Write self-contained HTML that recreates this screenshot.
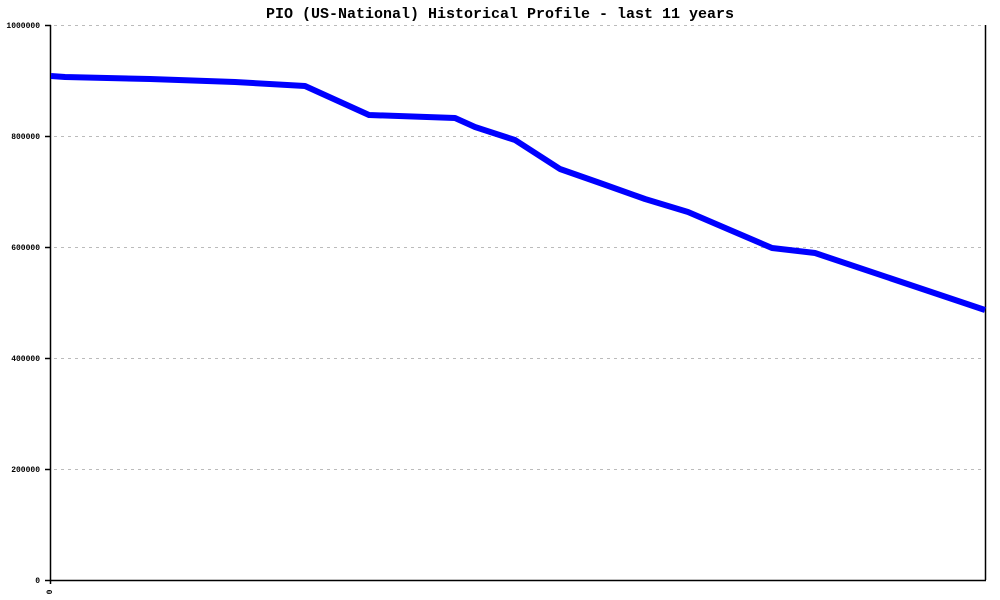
<!DOCTYPE html>
<html><head><meta charset="utf-8"><style>body{margin:0;background:#fff}svg{display:block}</style></head>
<body>
<svg width="1000" height="600" xmlns="http://www.w3.org/2000/svg" font-family="Liberation Mono, monospace">
<text x="500" y="18" text-anchor="middle" font-size="15" font-weight="bold">PIO (US-National) Historical Profile - last 11 years</text>
<g stroke="#bbb" stroke-dasharray="3,4" stroke-width="1">
<line x1="54" y1="25.5" x2="985" y2="25.5"/>
<line x1="54" y1="136.5" x2="985" y2="136.5"/>
<line x1="54" y1="247.5" x2="985" y2="247.5"/>
<line x1="54" y1="358.5" x2="985" y2="358.5"/>
<line x1="54" y1="469.5" x2="985" y2="469.5"/>
</g>
<g stroke="#000" stroke-width="1.5">
<line x1="50.5" y1="25" x2="50.5" y2="584"/>
<line x1="985.5" y1="25" x2="985.5" y2="580"/>
<line x1="50" y1="580.5" x2="986" y2="580.5"/>
<line x1="45" y1="25.5" x2="51" y2="25.5"/>
<line x1="45" y1="136.5" x2="51" y2="136.5"/>
<line x1="45" y1="247.5" x2="51" y2="247.5"/>
<line x1="45" y1="358.5" x2="51" y2="358.5"/>
<line x1="45" y1="469.5" x2="51" y2="469.5"/>
<line x1="45" y1="580.5" x2="51" y2="580.5"/>
</g>
<g font-size="8" font-weight="bold" text-anchor="end">
<text x="40" y="28">1000000</text>
<text x="40" y="139">800000</text>
<text x="40" y="250">600000</text>
<text x="40" y="361">400000</text>
<text x="40" y="472">200000</text>
<text x="40" y="583">0</text>
</g>
<text x="0" y="0" font-size="8" font-weight="bold" transform="translate(52,592) rotate(-90)" text-anchor="middle">0</text>
<polyline fill="none" stroke="#00f" stroke-width="6" stroke-linejoin="round" points="51,76 65,77 150,79 235,82 305,86 369,115 455,118 475,127 515,140 560,169 600,183 645,199 688,212 730,230 772,248 815,253 985,310"/>
</svg>
</body></html>
